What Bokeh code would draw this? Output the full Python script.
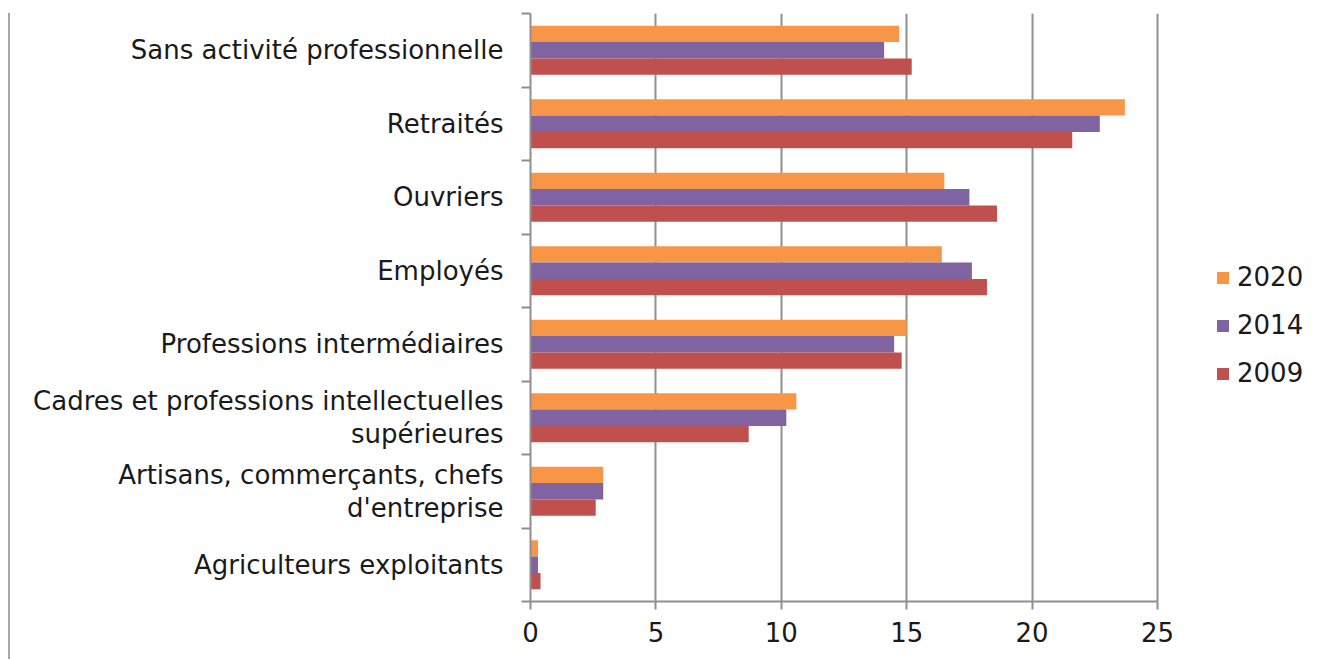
from bokeh.plotting import figure
from bokeh.models import Range1d, FixedTicker, Legend, LegendItem
from bokeh.embed import file_html
from bokeh.resources import INLINE

# ---- data (bottom to top) ----
categories = [
    "Agriculteurs exploitants",
    "Artisans, commerçants, chefs\nd'entreprise",
    "Cadres et professions intellectuelles\nsupérieures",
    "Professions intermédiaires",
    "Employés",
    "Ouvriers",
    "Retraités",
    "Sans activité professionnelle",
]
v2020 = [0.3, 2.9, 10.6, 15.0, 16.4, 16.5, 23.7, 14.7]
v2014 = [0.3, 2.9, 10.2, 14.5, 17.6, 17.5, 22.7, 14.1]
v2009 = [0.4, 2.6, 8.7, 14.8, 18.2, 18.6, 21.6, 15.2]
series_names = ["2020", "2014", "2009"]
x_ticks = [0, 5, 10, 15, 20, 25]

colors = ["#F79646", "#8064A2", "#C0504D"]
FONT = "DejaVu Sans"
FS = "26px"
GRID = "#8f8f8f"
TXT = "#1a1a1a"

n = len(categories)
centers = [i + 0.5 for i in range(n)]
bar_h = 0.222
offsets = [bar_h, 0.0, -bar_h]

# frame spans 530..1310 px; the value axis (0..25) occupies 530..1157 px
W, LEFT, RIGHT_B = 1319, 530, 9
frame_w = W - LEFT - RIGHT_B
x_end = 25 * frame_w / 627.0

p = figure(
    width=W, height=659,
    x_range=Range1d(0, x_end), y_range=Range1d(0, n),
    output_backend="svg", toolbar_location=None,
    min_border_left=LEFT, min_border_right=RIGHT_B,
    min_border_top=13, min_border_bottom=58,
)
p.outline_line_color = None
p.background_fill_color = "white"
p.border_fill_alpha = 0
p.styles = {
    "background": "white linear-gradient(#a6a6a6, #a6a6a6) no-repeat 8px 13px / 2px 646px",
}

renderers = []
for vals, off, col in zip([v2020, v2014, v2009], offsets, colors):
    r = p.hbar(y=[c + off for c in centers], right=vals, left=0, height=bar_h,
               fill_color=col, line_color=None)
    renderers.append(r)

# x axis
p.xaxis.ticker = FixedTicker(ticks=x_ticks)
p.xaxis.bounds = (0, 25)
p.xaxis.axis_line_color = GRID
p.xaxis.axis_line_width = 2
p.xaxis.major_tick_line_color = GRID
p.xaxis.major_tick_line_width = 2
p.xaxis.major_tick_out = 8
p.xaxis.major_tick_in = 0
p.xaxis.minor_tick_line_color = None
p.xaxis.major_label_text_font = FONT
p.xaxis.major_label_text_font_size = FS
p.xaxis.major_label_text_color = TXT
p.xaxis.major_label_standoff = 12

# y axis: labels at category centres, ticks at category boundaries
p.yaxis.ticker = FixedTicker(ticks=centers, minor_ticks=list(range(n + 1)))
p.yaxis.major_label_overrides = {c: lab for c, lab in zip(centers, categories)}
p.yaxis.axis_line_color = GRID
p.yaxis.axis_line_width = 2
p.yaxis.major_tick_line_color = None
p.yaxis.major_tick_out = 0
p.yaxis.major_tick_in = 0
p.yaxis.minor_tick_line_color = GRID
p.yaxis.minor_tick_line_width = 2
p.yaxis.minor_tick_out = 9
p.yaxis.minor_tick_in = 0
p.yaxis.major_label_text_font = FONT
p.yaxis.major_label_text_font_size = FS
p.yaxis.major_label_text_color = TXT
p.yaxis.major_label_text_line_height = 1.1
p.yaxis.major_label_standoff = 18

p.xgrid.ticker = FixedTicker(ticks=x_ticks)
p.xgrid.bounds = (0, 25)
p.xgrid.grid_line_color = GRID
p.xgrid.grid_line_width = 2
p.ygrid.grid_line_color = None

legend = Legend(
    items=[LegendItem(label=nm, renderers=[r]) for nm, r in zip(series_names, renderers)],
    location=(685, 213),
    orientation="vertical",
    border_line_color=None, background_fill_alpha=0,
    padding=0, margin=0, spacing=18,
    glyph_width=15, glyph_height=15, label_height=30,
    label_standoff=7,
    label_text_font=FONT, label_text_font_size=FS, label_text_color=TXT,
)
p.add_layout(legend, "center")

open("out.html", "w").write(file_html(p, INLINE))
